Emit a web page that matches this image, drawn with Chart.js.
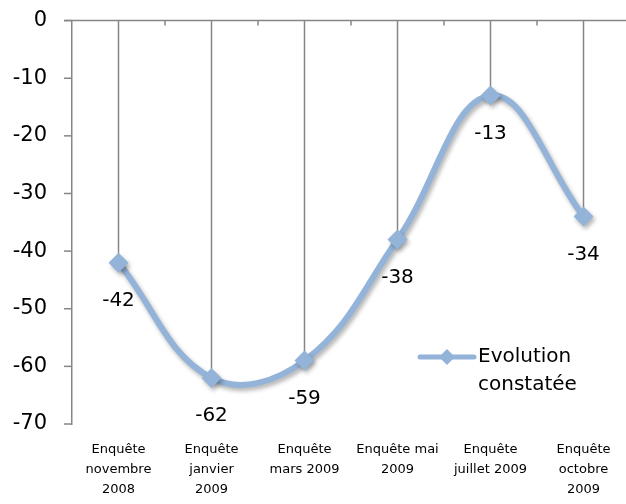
<!DOCTYPE html>
<html><head><meta charset="utf-8">
<script src="https://cdn.jsdelivr.net/npm/chart.js@4/dist/chart.umd.min.js"></script>
<style>html,body{margin:0;padding:0;background:#fff;overflow:hidden;}#wrap{width:640px;height:504px;}</style>
</head><body><div id="wrap"><canvas id="c" width="640" height="504"></canvas></div>
<script>
const categories = [["Enquête","novembre","2008"],["Enquête","janvier","2009"],["Enquête","mars 2009"],["Enquête mai","2009"],["Enquête","juillet 2009"],["Enquête","octobre","2009"]];
const seriesName = ["Evolution","constatée"];
const values = [-42,-62,-59,-38,-13,-34];
const yMin = -70, yMax = 0, yStep = 10;

const FONT = "'DejaVu Sans', sans-serif";
const LINE = "#93B3D8";
const AXIS = "#868686";

const decor = {
  id: 'decor',
  beforeDatasetsDraw(chart) {
    const {ctx, chartArea, scales} = chart;
    const x = scales.x, y = scales.y;
    const y0 = y.getPixelForValue(0);
    ctx.save();
    ctx.strokeStyle = AXIS; ctx.lineWidth = 1.5;
    // y tick marks
    y.ticks.forEach(t => {
      const py = y.getPixelForValue(t.value);
      ctx.beginPath(); ctx.moveTo(chartArea.left - 8, py); ctx.lineTo(chartArea.left, py); ctx.stroke();
    });
    // top category axis line
    ctx.beginPath(); ctx.moveTo(chartArea.left - 8, y0); ctx.lineTo(chartArea.right, y0); ctx.stroke();
    for (let i = 1; i < categories.length; i++) {
      const bx = (x.getPixelForValue(i - 1) + x.getPixelForValue(i)) / 2;
      ctx.beginPath(); ctx.moveTo(bx, y0); ctx.lineTo(bx, y0 + 5); ctx.stroke();
    }
    const meta = chart.getDatasetMeta(0);
    meta.data.forEach(p => {
      ctx.beginPath(); ctx.moveTo(p.x, y0); ctx.lineTo(p.x, p.y); ctx.stroke();
    });
    ctx.restore();
  },
  beforeDatasetDraw(chart) {
    const ctx = chart.ctx;
    ctx.save();
    ctx.shadowColor = 'rgba(0,0,0,0.3)';
    ctx.shadowBlur = 4; ctx.shadowOffsetX = 2; ctx.shadowOffsetY = 3;
  },
  afterDatasetDraw(chart) { chart.ctx.restore(); },
  afterDraw(chart) {
    const {ctx} = chart;
    const meta = chart.getDatasetMeta(0);
    ctx.save();
    ctx.fillStyle = '#000';
    ctx.font = "20px " + FONT;
    ctx.textAlign = 'center'; ctx.textBaseline = 'middle';
    meta.data.forEach((p, i) => { ctx.fillText(String(values[i]), p.x, p.y + 38); });
    const lx = 420, ly = 357;
    ctx.strokeStyle = LINE; ctx.lineWidth = 5; ctx.lineCap = 'round';
    ctx.beginPath(); ctx.moveTo(lx, ly); ctx.lineTo(lx + 54, ly); ctx.stroke();
    ctx.fillStyle = LINE;
    ctx.beginPath(); const cx = lx + 27, r = 8;
    ctx.moveTo(cx, ly - r); ctx.lineTo(cx + r, ly); ctx.lineTo(cx, ly + r); ctx.lineTo(cx - r, ly); ctx.closePath(); ctx.fill();
    ctx.fillStyle = '#000'; ctx.textAlign = 'left';
    ctx.fillText(seriesName[0], lx + 58, ly);
    ctx.fillText(seriesName[1], lx + 58, ly + 28);
    ctx.restore();
  }
};

new Chart(document.getElementById('c'), {
  type: 'line',
  data: { labels: categories, datasets: [{
    label: seriesName.join(' '), data: values,
    borderColor: LINE, backgroundColor: LINE, borderWidth: 6, tension: 0.4,
    pointStyle: 'rectRot', pointRadius: 10, pointBorderWidth: 0,
    pointBackgroundColor: LINE, pointBorderColor: LINE,
    fill: false
  }]},
  options: {
    responsive: false, animation: false,
    layout: { padding: { top: 17, right: 2, left: 0, bottom: 0 } },
    plugins: { legend: { display: false }, tooltip: { enabled: false } },
    scales: {
      x: {
        offset: true,
        afterFit(s) { s.height = 80; },
        grid: { display: false, drawTicks: false },
        border: { display: false },
        ticks: { color: '#000', font: { family: FONT, size: 13, lineHeight: 20/13 }, padding: 16, maxRotation: 0, autoSkip: false }
      },
      y: {
        min: yMin, max: yMax,
        afterFit(s) { s.width = 72; },
        grid: { display: false, drawTicks: true, tickLength: 17 },
        border: { display: true, color: AXIS, width: 1.5 },
        ticks: { stepSize: yStep, color: '#000', font: { family: FONT, size: 21 }, padding: 8 }
      }
    }
  },
  plugins: [decor]
});
</script></body></html>
